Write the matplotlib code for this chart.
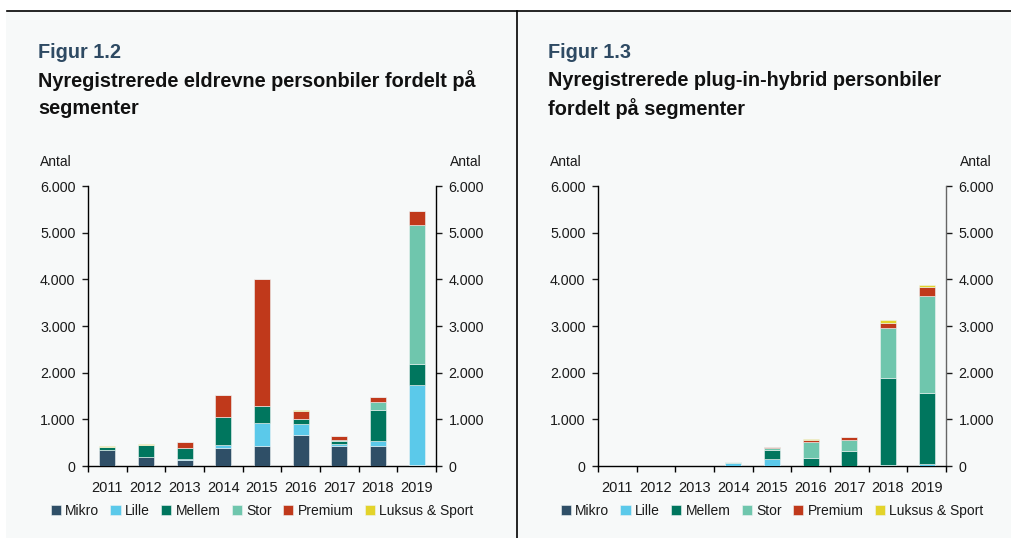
import matplotlib
matplotlib.use("Agg")
import matplotlib.pyplot as plt
import numpy as np
from matplotlib.patches import Rectangle
from matplotlib.ticker import FuncFormatter, FixedLocator

plt.rcParams['font.family'] = ['Liberation Sans', 'DejaVu Sans']

years = ['2011', '2012', '2013', '2014', '2015', '2016', '2017', '2018', '2019']
segments = ['Mikro', 'Lille', 'Mellem', 'Stor', 'Premium', 'Luksus & Sport']
colors = ['#2f4f67', '#5bc9ea', '#00765e', '#6fc6ad', '#c0391b', '#e3d32a']

# Figur 1.2 - eldrevne personbiler
el_mikro   = [340, 190, 135, 390, 430, 655, 420, 430, 20]
el_lille   = [0, 5, 15, 65, 500, 250, 45, 105, 1710]
el_mellem  = [70, 260, 240, 600, 350, 100, 75, 665, 455]
el_stor    = [0, 0, 5, 5, 10, 5, 20, 165, 2990]
el_premium = [0, 0, 110, 460, 2710, 175, 80, 105, 290]
el_luksus  = [20, 20, 5, 0, 0, 5, 0, 10, 10]

# Figur 1.3 - plug-in-hybrid personbiler
ph_mikro   = [0, 0, 0, 0, 0, 0, 0, 0, 0]
ph_lille   = [0, 0, 0, 70, 145, 5, 5, 15, 45]
ph_mellem  = [0, 0, 0, 5, 205, 175, 320, 1875, 1520]
ph_stor    = [0, 0, 0, 10, 40, 330, 240, 1070, 2080]
ph_premium = [0, 0, 0, 0, 15, 55, 50, 105, 185]
ph_luksus  = [0, 0, 0, 0, 0, 5, 10, 55, 45]

yticks = [0, 1000, 2000, 3000, 4000, 5000, 6000]

W, H = 1012, 538
fig = plt.figure(figsize=(W / 100, H / 100), dpi=100)
fig.patch.set_facecolor('white')

# grey panel background
fig.add_artist(Rectangle((6 / W, 0), 1 - 6 / W, 1 - 11 / H, transform=fig.transFigure,
                         facecolor='#f7f9f9', edgecolor='none', zorder=-10))
fig.add_artist(plt.Line2D([7 / W, 1], [1 - 10.5 / H, 1 - 10.5 / H], transform=fig.transFigure,
                          color='black', lw=1.2))
fig.add_artist(plt.Line2D([517 / W, 517 / W], [0, 1 - 10.5 / H], transform=fig.transFigure,
                          color='black', lw=1.2))

fmt = FuncFormatter(lambda v, p: f"{int(v):,}".replace(',', '.'))


def draw(left_px, right_px, data, fignum, title_lines, rspine_color):
    ax = fig.add_axes([left_px / W, (H - 466) / H, (right_px - left_px) / W, 280 / H])
    ax.set_facecolor('none')
    x = np.arange(len(years))
    bottom = np.zeros(len(years))
    for vals, c, lab in zip(data, colors, segments):
        ax.bar(x, vals, 0.42, bottom=bottom, color=c, edgecolor='#eef3f3', linewidth=0.4,
               label=lab, zorder=3)
        bottom += np.array(vals)
    ax.set_xlim(-0.5, len(years) - 0.5)
    ax.set_ylim(0, 6000)
    ax.set_yticks(yticks)
    ax.yaxis.set_major_formatter(fmt)
    ax.set_xticks(x)
    ax.set_xticklabels(years)
    ax.xaxis.set_minor_locator(FixedLocator(np.arange(-0.5, len(years), 1.0)))
    ax.tick_params(axis='x', which='major', length=0, labelsize=10.5, pad=11, colors='#1a1a1a')
    ax.tick_params(axis='x', which='minor', length=4, width=1, direction='out', color='black')
    ax.tick_params(axis='y', which='major', length=4, width=1, direction='out',
                   labelsize=10.3, pad=5, colors='#1a1a1a', left=True, right=True,
                   labelleft=True, labelright=True)
    ax.spines['top'].set_visible(False)
    ax.spines['left'].set_color('black')
    ax.spines['bottom'].set_color('black')
    ax.spines['right'].set_color(rspine_color)
    for s in ['left', 'bottom', 'right']:
        ax.spines[s].set_linewidth(1)

    fig.text((left_px - 48) / W, 1 - 162 / H, 'Antal', fontsize=10, ha='left', va='center',
             color='#1a1a1a')
    fig.text((right_px + 14) / W, 1 - 162 / H, 'Antal', fontsize=10, ha='left', va='center',
             color='#1a1a1a')
    fig.text((left_px - 50) / W, 1 - 53 / H, fignum, fontsize=14.3, fontweight='bold',
             ha='left', va='center', color='#2e4a63')
    for i, line in enumerate(title_lines):
        fig.text((left_px - 50) / W, 1 - (81 + 28 * i) / H, line, fontsize=14.3,
                 fontweight='bold', ha='left', va='center', color='#111111')

    handles, labels = ax.get_legend_handles_labels()
    cx = (left_px + right_px) / 2 / W
    fig.legend(handles, labels, loc='center', bbox_to_anchor=(cx, 1 - 511 / H), ncol=6,
               frameon=False, fontsize=10, handlelength=0.75, handleheight=0.75,
               handletextpad=0.3, columnspacing=0.8, labelcolor='#1a1a1a')
    return ax


draw(88, 436, [el_mikro, el_lille, el_mellem, el_stor, el_premium, el_luksus], 'Figur 1.2',
     ['Nyregistrerede eldrevne personbiler fordelt på', 'segmenter'], 'black')
draw(598, 946, [ph_mikro, ph_lille, ph_mellem, ph_stor, ph_premium, ph_luksus], 'Figur 1.3',
     ['Nyregistrerede plug-in-hybrid personbiler', 'fordelt på segmenter'], '#666666')

fig.savefig('out.png', dpi=100, facecolor=fig.get_facecolor())
